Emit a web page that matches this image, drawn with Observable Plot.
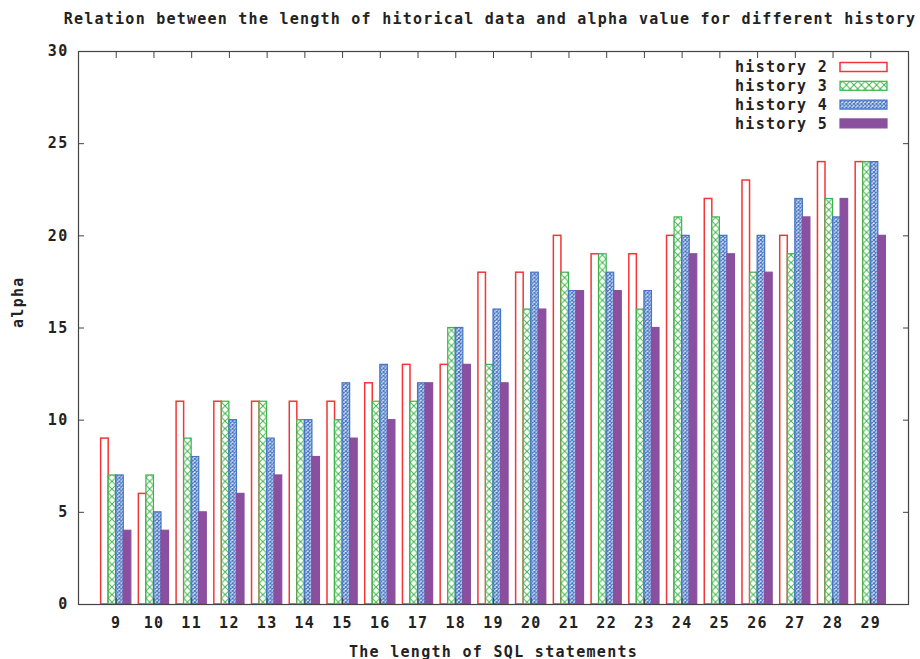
<!DOCTYPE html>
<html><head><meta charset="utf-8">
<script src="https://cdn.jsdelivr.net/npm/d3@7"></script>
<script src="https://cdn.jsdelivr.net/npm/@observablehq/plot@0.6"></script>
<style>
body{margin:0;background:#fff;}
#title{height:40px;box-sizing:border-box;padding-left:60px;width:920px;text-align:center;font:bold 15px "DejaVu Sans Mono";letter-spacing:1.24px;line-height:38px;white-space:nowrap;color:#222;}
</style></head><body>
<div id="title">Relation between the length of hitorical data and alpha value for different history</div>
<div id="chart"></div>
<script>
const lengths  = [9,10,11,12,13,14,15,16,17,18,19,20,21,22,23,24,25,26,27,28,29];
const history2 = [9, 6,11,11,11,11,11,12,13,13,18,18,20,19,19,20,22,23,20,24,24];
const history3 = [7, 7, 9,11,11,10,10,11,11,15,13,16,18,19,16,21,21,18,19,22,24];
const history4 = [7, 5, 8,10, 9,10,12,13,12,15,16,18,17,18,17,20,20,20,22,21,24];
const history5 = [4, 4, 5, 6, 7, 8, 9,10,12,13,12,16,17,17,15,19,19,18,21,22,20];
const seriesNames = ["history 2","history 3","history 4","history 5"];
const yTicks = [0,5,10,15,20,25,30];

const series = [history2, history3, history4, history5];
const colors = ["#f53535","#3db54a","#4474c4","#8a4f9e"];
const fills = ["#ffffff","url(#pat-h3)","url(#pat-h4)","#8a4f9e"];
const widths = [1.5, 1.2, 1.2, 1.2];
const barW = 0.2, groupW = 0.8;

const marks = series.map((vals, k) => {
  const rows = lengths.map((L, i) => ({length: L, value: vals[i]}));
  return Plot.rectY(rows, {
    x1: d => d.length - groupW / 2 + k * barW,
    x2: d => d.length - groupW / 2 + (k + 1) * barW,
    y1: 0, y2: "value",
    fill: fills[k], stroke: colors[k], strokeWidth: widths[k]
  });
});

const axisColor = "#444";
const chart = Plot.plot({
  width: 920, height: 619,
  marginTop: 11, marginBottom: 55, marginLeft: 78, marginRight: 12,
  style: {fontFamily: "DejaVu Sans Mono", fontSize: "15px", fontWeight: "bold", letterSpacing: "1.3px", color: "#222", background: "#fff"},
  x: {domain: [8, 30]},
  y: {domain: [0, 30]},
  marks: [
    ...marks,
    Plot.axisX(lengths, {anchor: "bottom", tickSize: 0, tickPadding: 13, label: null, stroke: "none", fill: "#222"}),
    Plot.axisX(lengths, {anchor: "bottom", tickSize: -6, fill: "none", stroke: axisColor, label: null}),
    Plot.axisX(lengths, {anchor: "top", tickSize: -6, fill: "none", stroke: axisColor, label: null}),
    Plot.axisY(yTicks, {anchor: "left", tickSize: 0, tickPadding: 10, label: null, stroke: "none", fill: "#222"}),
    Plot.axisY(yTicks, {anchor: "left", tickSize: -6, fill: "none", stroke: axisColor, label: null}),
    Plot.axisY(yTicks, {anchor: "right", tickSize: -6, fill: "none", stroke: axisColor, label: null}),
    Plot.frame({stroke: axisColor, strokeWidth: 1.2}),
    Plot.text(["The length of SQL statements"], {text: d => d, frameAnchor: "bottom", dy: 52, fill: "#222", letterSpacing: "0.9px"}),
    Plot.text(["alpha"], {text: d => d, frameAnchor: "left", dx: -60, rotate: -90, fill: "#222"})
  ]
});

// patterns
const xs = chart.scale("x");
const x0 = xs.apply(8 + (1 - groupW / 2));
const tileW = xs.apply(8 + (1 - groupW / 2) + barW) - x0;
const svg = d3.select(chart);
const defs = svg.insert("defs", ":first-child");
const p3 = defs.append("pattern").attr("id", "pat-h3").attr("patternUnits", "userSpaceOnUse")
  .attr("x", x0).attr("y", 0).attr("width", tileW).attr("height", tileW);
p3.append("rect").attr("width", tileW).attr("height", tileW).attr("fill", "#fff");
p3.append("path").attr("d", `M0,0L${tileW},${tileW}M${tileW},0L0,${tileW}`).attr("stroke", colors[1]).attr("stroke-width", 1).attr("fill", "none");
const t4 = tileW / 2;
const p4 = defs.append("pattern").attr("id", "pat-h4").attr("patternUnits", "userSpaceOnUse")
  .attr("x", x0).attr("y", 0).attr("width", t4).attr("height", t4);
p4.append("rect").attr("width", t4).attr("height", t4).attr("fill", "#fff");
p4.append("path").attr("d", `M0,0L${t4},${t4}M${t4},0L0,${t4}`).attr("stroke", colors[2]).attr("stroke-width", 1.2).attr("fill", "none");

// legend (key) inside the frame, top right
const legend = svg.append("g").attr("transform", `translate(${920 - 12},${11})`);
seriesNames.forEach((name, k) => {
  const cy = 16 + k * 18.8;
  legend.append("text").attr("x", -80).attr("y", cy).attr("dy", "0.36em").attr("text-anchor", "end")
    .attr("fill", "#222").text(name);
  legend.append("rect").attr("x", -68).attr("y", cy - 4.5).attr("width", 47).attr("height", 9)
    .attr("fill", fills[k]).attr("stroke", colors[k]).attr("stroke-width", widths[k]);
});

document.getElementById("chart").append(chart);
</script>
</body></html>
